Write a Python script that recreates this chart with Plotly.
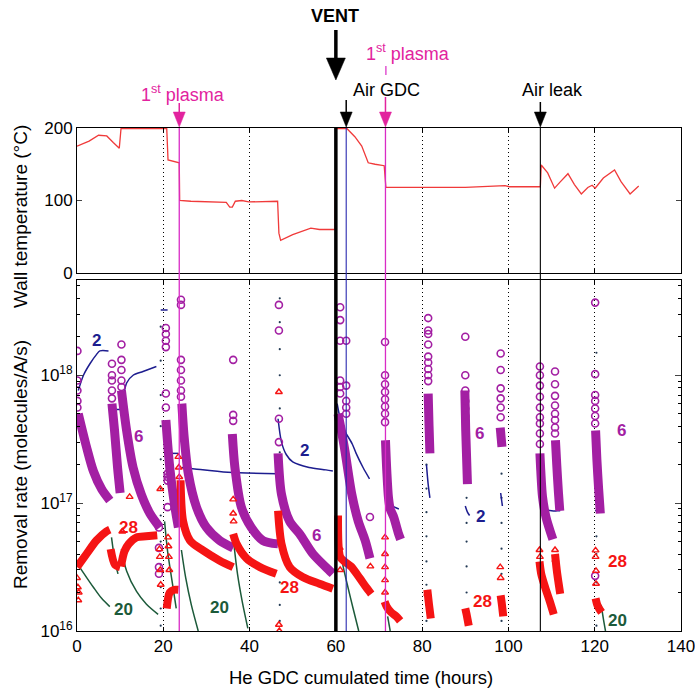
import math
import plotly.graph_objects as go

# ---------------- data ----------------
# Wall temperature (top panel)
temp_hours = [0, 2.8, 5.0, 6.9, 8.4, 9.8, 10.2, 20.8, 21.1, 23.3, 23.7, 23.8, 26.4, 34.6,
              35.4, 36.0, 36.7, 38.2, 39.8, 46.5, 46.8, 47.2, 50.0, 54.2, 56.2, 59.8,
              60.0, 62.6, 64.4, 66.0, 67.5, 69.1, 71.2, 71.6, 90.0, 99.2, 100.2, 107.4,
              107.6, 109.1, 110.7, 111.9, 113.8, 115.3, 116.9, 118.4, 119.4, 120.1,
              122.0, 124.6, 126.1, 128.2, 129.2, 130.2]
temp_celsius = [175, 182, 190, 189, 180, 172, 199, 199, 156, 152, 152, 100, 99, 97.5,
                91, 91, 99, 100, 98, 99, 55, 45, 53, 62, 60, 60,
                199, 199, 188, 175, 152, 150, 148, 118, 118, 120.5, 119, 119,
                149, 138, 117, 125, 137, 122, 109, 118, 121, 117,
                131, 142, 126, 109, 115, 120]

# Events (hours)
plasma1_h = 23.7
vent_h = 60.0
air_gdc_h = 62.4
plasma2_h = 71.5
air_leak_h = 107.4

# mass 6 (purple circles) - dense decays
m6_hours = [
    [0.3, 2.2, 3.8, 5.7, 7.6],
    [8.1, 8.7, 9.4, 10.0],
    [10.3, 11.5, 13.0, 14.9, 16.9, 19.2],
    [20.6, 21.5, 22.7, 23.5],
    [24.3, 24.8, 25.8, 27.7, 30.0, 33.1, 36.2],
    [36.0, 36.6, 38.1, 40.4, 43.1, 46.6],
    [46.6, 47.4, 49.3, 51.6, 54.7, 58.6, 59.3],
    [60.5, 61.4, 62.1, 63.7, 65.2, 66.8, 67.9],
    [71.5, 71.8, 72.2, 72.6, 73.4, 74.5, 75.0],
    [81.4, 81.6, 81.8],
    [89.9, 90.1, 90.5],
    [98.1, 98.5],
    [107.3, 107.5, 107.9, 108.7, 110.3],
    [110.9, 111.2, 111.6, 111.9],
    [120.2, 120.5, 120.9, 121.3],
]
m6_rates = [
    [5.0e17, 2.75e17, 1.78e17, 1.29e17, 1.05e17],
    [6.0e17, 3.7e17, 1.9e17, 1.2e17],
    [7.6e17, 3.7e17, 1.9e17, 1.17e17, 8.3e16, 6.45e16],
    [4.47e17, 1.9e17, 9.3e16, 6.45e16],
    [6.0e17, 3.4e17, 1.7e17, 9.3e16, 6.45e16, 5.1e16, 4.47e16],
    [3.47e17, 1.9e17, 9.3e16, 6.45e16, 5.1e16, 4.8e16],
    [2.45e17, 1.17e17, 7.2e16, 5.75e16, 4.0e16, 2.95e16, 2.8e16],
    [5.0e17, 3.5e17, 2.57e17, 1.17e17, 7.2e16, 5.1e16, 3.7e16],
    [3.1e17, 1.8e17, 1.1e17, 9.0e16, 7.8e16, 5.8e16, 5.2e16],
    [7.2e17, 4.0e17, 2.45e17],
    [7.6e17, 3.7e17, 1.41e17],
    [3.9e17, 2.75e17],
    [2.45e17, 1.78e17, 1.12e17, 7.8e16, 5.2e16],
    [3.1e17, 2.0e17, 1.2e17, 8.7e16],
    [3.7e17, 2.2e17, 1.3e17, 8.3e16],
]
# mass 6 isolated circles (columns of points above each decay)
m6_pts_hours = ([0.1] * 5 + [8.1] * 5 + [10.3] * 5 + [19.0] * 4 + [20.6] * 6 + [21.0] * 4
                + [24.1] * 7 + [36.2] * 3 + [46.8] * 4 + [61.0] * 6 + [62.4] * 5 + [67.9]
                + [71.4] * 8 + [81.4] * 9 + [90.0] * 6 + [98.2] * 6 + [107.3] * 9
                + [110.8] * 8 + [120.1] * 8)
m6_pts_rates = [1.55e18, 9.1e17, 7.6e17, 6.3e17, 5.6e17,
                1.23e18, 1.0e18, 9.1e17, 7.6e17, 6.6e17,
                1.74e18, 1.32e18, 1.1e18, 9.1e17, 8.1e17,
                6.45e16, 4.47e16, 3.16e16, 2.8e16,
                2.34e18, 2.1e18, 1.86e18, 1.66e18, 7.2e17, 5.6e17,
                1.7e17, 1.6e17, 1.5e17, 9.3e16,
                3.9e18, 3.55e18, 1.32e18, 1.1e18, 9.1e17, 7.6e17, 6.8e17,
                1.32e18, 4.9e17, 4.4e17,
                3.55e18, 2.24e18, 4.57e17, 3.0e17,
                3.4e18, 2.7e18, 1.86e18, 9.1e17, 8.1e17, 7.2e17,
                1.86e18, 8.3e17, 6.3e17, 5.6e17, 5.0e17,
                7.8e16,
                1.82e18, 1.0e18, 8.5e17, 7.4e17, 6.5e17, 5.7e17, 5.0e17, 4.3e17,
                2.8e18, 2.24e18, 2.1e18, 1.74e18, 1.4e18, 1.26e18, 1.12e18, 1.0e18, 9.0e17,
                2.0e18, 1.0e18, 7.6e17, 6.3e17, 5.5e17, 4.8e17,
                1.48e18, 1.1e18, 7.9e17, 6.6e17, 5.6e17, 4.7e17,
                1.17e18, 1.0e18, 8.3e17, 6.8e17, 5.6e17, 4.7e17, 4.2e17, 3.5e17, 2.9e17,
                1.07e18, 8.5e17, 6.9e17, 5.8e17, 5.0e17, 4.47e17, 3.9e17, 3.5e17,
                3.7e18, 1.02e18, 7.0e17, 6.3e17, 5.5e17, 4.8e17, 4.2e17, 2.7e16]

# mass 28 (red triangles) - dense decays
m28_hours = [
    [0.0, 2.2, 4.5, 6.8, 7.6],
    [7.8, 8.8, 10.0],
    [10.2, 11.0, 12.0, 13.8, 16.0, 18.6],
    [20.8, 21.5, 22.5, 23.5],
    [24.0, 24.6, 26.2, 29.2, 33.1, 36.2],
    [36.2, 37.0, 39.3, 42.4, 46.2],
    [46.6, 47.4, 49.3, 52.4, 56.2, 59.3],
    [60.5, 61.0, 62.0, 63.5, 65.5, 67.0, 68.2],
    [71.3, 71.8, 72.8, 74.0, 74.9],
    [81.2, 81.6, 82.0],
    [90.0, 90.4, 90.8],
    [98.2, 98.5, 98.8],
    [107.2, 107.6, 108.5, 109.6, 110.5],
    [110.8, 111.2, 111.6, 112.0],
    [120.2, 120.6, 121.0, 121.6],
]
m28_rates = [
    [3.16e16, 4.0e16, 5.1e16, 6.0e16, 6.2e16],
    [4.37e16, 3.3e16, 3.16e16],
    [3.2e16, 4.2e16, 4.8e16, 5.4e16, 5.5e16, 5.6e16],
    [1.5e16, 2.0e16, 2.1e16, 2.1e16],
    [1.51e17, 7.2e16, 5.1e16, 4.27e16, 3.55e16, 3.16e16],
    [5.75e16, 4.8e16, 3.7e16, 3.16e16, 2.8e16],
    [8.7e16, 4.8e16, 3.16e16, 2.63e16, 2.34e16, 2.14e16],
    [8.0e16, 3.8e16, 3.5e16, 3.2e16, 2.6e16, 2.2e16, 1.95e16],
    [1.7e16, 1.55e16, 1.4e16, 1.3e16, 1.2e16],
    [2.1e16, 1.6e16, 1.25e16],
    [1.5e16, 1.3e16, 1.1e16],
    [1.9e16, 1.6e16, 1.3e16],
    [3.5e16, 2.8e16, 2.2e16, 1.7e16, 1.35e16],
    [4.0e16, 3.0e16, 2.4e16, 1.95e16],
    [1.8e16, 1.6e16, 1.5e16, 1.4e16],
]
m28_pts_hours = [0.0, 0.2, 0.3, 0.4, 10.5, 12.2, 19.3, 19.1, 19.2, 19.3, 19.4,
                 21.1, 21.2, 21.3, 21.4, 23.5, 23.6, 23.7, 36.2, 36.2, 36.3,
                 46.8, 46.8, 46.9, 60.9, 61.0, 68.0, 71.4, 71.4, 71.4, 71.4, 71.4,
                 81.2, 98.1, 98.2,
                 107.2, 107.3, 110.8, 110.9, 120.2, 120.2, 120.3, 120.3]
m28_pts_rates = [2.6e16, 2.2e16, 1.74e16, 2.0e16, 6.0e16, 1.12e17, 1.29e17, 4.37e16,
                 3.8e16, 3.0e16, 2.3e16, 5.4e16, 4.6e16, 3.8e16, 3.0e16, 2.3e17, 1.9e17,
                 1.6e17, 1.07e17, 8.3e16, 7.2e16, 7.4e17, 1.12e16, 1.0e16,
                 4.47e16, 3.0e16, 3.2e16, 5.4e16, 4.0e16, 3.16e16, 2.5e16, 2.0e16,
                 1.95e16, 3.16e16, 2.6e16,
                 4.3e16, 3.8e16, 4.3e16, 3.6e16, 4.27e16, 3.8e16, 2.95e16, 2.34e16]

# mass 2 (navy dots)
m2_hours = [
    [0.3, 1.5, 3.0, 4.5, 5.3, 7.3],
    [8.6, 10.4],
    [10.4, 11.5, 13.0, 15.3, 18.4],
    [19.4, 21.0],
    [21.9, 23.5],
    [24.3, 27.3, 35.0, 46.5],
    [46.6, 47.4, 48.5, 50.0, 53.8, 57.7, 59.3],
    [60.3, 61.5, 63.8, 64.7, 66.3, 67.8],
    [71.5, 73.0, 74.6],
    [81.0, 81.4, 81.8],
    [90.0, 90.5, 91.0],
    [98.2, 98.6],
    [107.2, 108.5, 110.0, 111.3, 112.0],
    [120.1, 121.0, 121.8],
]
m2_rates = [
    [7.6e17, 1.0e18, 1.23e18, 1.45e18, 1.55e18, 1.55e18],
    [5.4e17, 5.4e17],
    [5.4e17, 8.7e17, 1.0e18, 1.07e18, 1.17e18],
    [3.24e18, 3.24e18],
    [2.45e17, 2.45e17],
    [1.9e17, 1.85e17, 1.74e17, 1.7e17],
    [4.57e17, 3.0e17, 2.4e17, 2.1e17, 1.9e17, 1.82e17, 1.78e17],
    [6.0e17, 4.0e17, 2.9e17, 2.45e17, 1.9e17, 1.55e17],
    [1.05e17, 9.5e16, 9.0e16],
    [2.0e17, 1.4e17, 1.1e17],
    [9.5e16, 8.5e16, 8.0e16],
    [1.2e17, 9.5e16],
    [1.05e17, 9.0e16, 8.7e16, 8.7e16, 8.7e16],
    [8.7e16, 8.9e16, 8.7e16],
]

# mass 20 (dark green dots)
m20_hours = [
    [0.6, 2.2, 3.8, 5.7, 7.6],
    [8.0, 8.8, 9.5],
    [10.3, 11.5, 13.8, 16.1, 18.8],
    [20.3, 21.0, 22.0, 23.0],
    [24.2, 25.2, 26.5, 28.1],
    [36.3, 37.2, 38.3, 39.6],
    [60.8, 61.6, 62.8, 64.0, 65.3],
    [72.0, 72.6],
    [121.5, 122.0, 122.5],
]
m20_rates = [
    [3.16e16, 2.63e16, 2.2e16, 1.8e16, 1.55e16],
    [5.4e16, 3.5e16, 2.8e16],
    [4.37e16, 2.95e16, 2.04e16, 1.62e16, 1.35e16],
    [7.2e16, 4.2e16, 2.5e16, 1.5e16],
    [4.3e16, 2.6e16, 1.6e16, 1.0e16],
    [5.0e16, 2.8e16, 1.7e16, 1.05e16],
    [5.0e16, 3.3e16, 2.2e16, 1.5e16, 1.0e16],
    [1.3e16, 1.0e16],
    [1.6e16, 1.25e16, 1.0e16],
]

# measurement scan columns (small dots)
scan_hours = [19.4] * 12 + [47.0] * 10 + [81.0] * 8 + [90.3] * 6 + [98.4] * 7 + [120.4] * 6
scan_rates = [1.1e16, 1.5e16, 2.2e16, 3.3e16, 5e16, 8e16, 1.3e17, 2.2e17, 4e17, 7e17, 1.3e18, 2.4e18,
              1.2e16, 1.6e16, 2.4e16, 1.5e17, 2.5e17, 5.5e17, 1.0e18, 1.6e18, 2.6e18, 4.0e18,
              1.2e16, 1.6e16, 2.3e16, 3.5e16, 5.5e16, 8.5e16, 1.3e17, 2.0e17,
              1.3e16, 2.0e16, 3.2e16, 5e16, 7e16, 1.1e17,
              1.2e16, 1.8e16, 2.8e16, 4.4e16, 7e16, 1.1e17, 1.7e17,
              1.1e16, 1.6e16, 2.4e16, 4e16, 5.5e16, 1.5e18]

# species labels
label_text = ["2", "6", "28", "20", "2", "6", "28", "20", "6", "2", "28", "6", "28", "20"]
label_hours = [4.55, 14.2, 11.9, 10.7, 52.8, 55.5, 49.3, 33.1, 93.3, 93.5, 93.9, 126.1, 125.3, 125.3]
label_rates = [1.86e18, 3.3e17, 6.5e16, 1.48e16, 2.57e17, 5.6e16, 2.2e16, 1.52e16,
               3.5e17, 7.8e16, 1.7e16, 3.7e17, 3.5e16, 1.2e16]

x_ticks = [0, 20, 40, 60, 80, 100, 120, 140]
t_ticks = [0, 100, 200]
r_ticks = [1e16, 1e17, 1e18]
r_ticktext = ["10<sup>16</sup>", "10<sup>17</sup>", "10<sup>18</sup>"]

# ---------------- styling ----------------
C_NAVY = "#1d1d8f"
C_PURPLE = "#a31fa3"
C_RED = "#f51414"
C_GREEN = "#1c5a3a"
C_PINK_TXT = "#e2239e"
C_PINK_LINE = "#d92bc6"
species_color = {"2": C_NAVY, "6": C_PURPLE, "28": C_RED, "20": C_GREEN}
FONT = "Liberation Sans, Arial, sans-serif"

# page geometry (body margin removed by post_script)
W, H = 695, 689
ML, MR, MT, MB = 77, 14, 128, 58
PLOT_H = H - MT - MB            # 503
PLOT_W = W - ML - MR            # 604
BOTTOM_PX = H - MB              # 631
LEFT_PX = ML


def py(px):
    """pixel row -> paper y"""
    return (BOTTOM_PX - px) / PLOT_H


def pxw(px):
    """pixel column -> paper x"""
    return (px - LEFT_PX) / PLOT_W


def flat(segs):
    out = []
    for s in segs:
        out += list(s) + [None]
    return out


fig = go.Figure()

fig.add_trace(go.Scatter(x=scan_hours, y=scan_rates, mode="markers", xaxis="x2", yaxis="y2",
                         marker=dict(size=2.2, color="#233a55"), showlegend=False))
fig.add_trace(go.Scatter(x=flat(m20_hours), y=flat(m20_rates), mode="lines", xaxis="x2", yaxis="y2",
                         line=dict(color=C_GREEN, width=1.5, shape="spline", smoothing=0.8),
                         connectgaps=False, showlegend=False))
fig.add_trace(go.Scatter(x=flat(m2_hours), y=flat(m2_rates), mode="lines", xaxis="x2", yaxis="y2",
                         line=dict(color=C_NAVY, width=1.5, shape="spline", smoothing=0.8),
                         connectgaps=False, showlegend=False))
fig.add_trace(go.Scatter(x=flat(m6_hours), y=flat(m6_rates), mode="lines", xaxis="x2", yaxis="y2",
                         line=dict(color=C_PURPLE, width=9, shape="spline", smoothing=0.8),
                         connectgaps=False, showlegend=False))
fig.add_trace(go.Scatter(x=m6_pts_hours, y=m6_pts_rates, mode="markers", xaxis="x2", yaxis="y2",
                         marker=dict(symbol="circle-open", size=7, color=C_PURPLE, line=dict(width=1.6)),
                         showlegend=False))
fig.add_trace(go.Scatter(x=flat(m28_hours), y=flat(m28_rates), mode="lines", xaxis="x2", yaxis="y2",
                         line=dict(color=C_RED, width=8, shape="spline", smoothing=0.8),
                         connectgaps=False, showlegend=False))
fig.add_trace(go.Scatter(x=m28_pts_hours, y=m28_pts_rates, mode="markers", xaxis="x2", yaxis="y2",
                         marker=dict(symbol="triangle-up-open", size=6, color=C_RED, line=dict(width=1.4)),
                         showlegend=False))
fig.add_trace(go.Scatter(x=temp_hours, y=temp_celsius, mode="lines", xaxis="x", yaxis="y",
                         line=dict(color="#f03a3a", width=1.3), showlegend=False))

# ---------------- event lines & arrows ----------------
shapes = [
    dict(type="line", xref="x", yref="paper", x0=vent_h, x1=vent_h, y0=0, y1=1,
         line=dict(color="black", width=3.5)),
    dict(type="line", xref="x", yref="paper", x0=plasma1_h, x1=plasma1_h, y0=0, y1=1,
         line=dict(color=C_PINK_LINE, width=1.3)),
    dict(type="line", xref="x", yref="paper", x0=plasma2_h, x1=plasma2_h, y0=0, y1=1,
         line=dict(color=C_PINK_LINE, width=1.3)),
    dict(type="line", xref="x", yref="paper", x0=air_gdc_h, x1=air_gdc_h, y0=0, y1=1,
         line=dict(color="#2a2ab0", width=1.1)),
    dict(type="line", xref="x", yref="paper", x0=air_leak_h, x1=air_leak_h, y0=0, y1=1,
         line=dict(color="black", width=1.1)),
    dict(type="line", xref="x", yref="paper", x0=plasma2_h + 0.1, x1=plasma2_h + 0.1,
         y0=py(75), y1=py(66), line=dict(color=C_PINK_LINE, width=1.2)),
]

HOURS_PER_PX = 140 / PLOT_W


def arrow(xv, tip_px, tail_px, color, width, head_len, head_half):
    base_px = tip_px - head_len
    shapes.append(dict(type="line", xref="x", yref="paper", x0=xv, x1=xv,
                       y0=py(tail_px), y1=py(base_px + 1), line=dict(color=color, width=width)))
    dx = head_half * HOURS_PER_PX
    shapes.append(dict(type="path", xref="x", yref="paper",
                       path="M %f,%f L %f,%f L %f,%f Z" % (xv - dx, py(base_px), xv + dx, py(base_px),
                                                           xv, py(tip_px)),
                       fillcolor=color, line=dict(color=color, width=0.5)))


arrow(vent_h, 80, 30, "black", 3.5, 22, 9.5)
arrow(plasma1_h, 127, 103, C_PINK_TXT, 1.5, 15, 6)
arrow(plasma2_h, 127, 97, C_PINK_TXT, 1.5, 15, 6)
arrow(air_gdc_h, 127, 100, "black", 1.5, 15, 6)
arrow(air_leak_h, 127, 102, "black", 1.5, 15, 6)

ann = []


def text(xref, x, y, s, size, color, angle=0):
    ann.append(dict(xref=xref, yref="paper", x=x, y=y, text=s, showarrow=False,
                    xanchor="center", yanchor="middle", textangle=angle,
                    font=dict(family=FONT, size=size, color=color)))


text("x", 59.8, py(16), "<b>VENT</b>", 18, "black")
text("x", 24.6, py(93), "1<sup>st</sup> plasma", 18, C_PINK_TXT)
text("x", 76.8, py(52), "1<sup>st</sup> plasma", 18, C_PINK_TXT)
text("x", 71.7, py(90), "Air GDC", 18, "black")
text("x", 110.2, py(90), "Air leak", 18, "black")
text("paper", pxw(20), py(217), "Wall temperature (°C)", 19, "black", -90)
text("paper", pxw(20), py(465), "Removal rate (molecules/A/s)", 19, "black", -90)
text("paper", pxw(361), py(677), "He GDC cumulated time (hours)", 18.5, "black")

# species labels (annotation positions on a log axis are given in log10 units)
for t, h, r in zip(label_text, label_hours, label_rates):
    ann.append(dict(xref="x2", yref="y2", x=h, y=math.log10(r), text="<b>%s</b>" % t,
                    showarrow=False, xanchor="center", yanchor="middle",
                    font=dict(family=FONT, size=17, color=species_color[t])))

axis_common = dict(range=[0, 140], showline=True, linecolor="black", linewidth=1, mirror="ticks",
                   ticks="inside", ticklen=4, tickcolor="black", tickvals=x_ticks, automargin=False,
                   showgrid=True, gridcolor="black", griddash="1px,3px", gridwidth=1, zeroline=False)

fig.update_layout(
    width=W, height=H,
    margin=dict(l=ML, r=MR, t=MT, b=MB, autoexpand=False),
    paper_bgcolor="white", plot_bgcolor="white",
    font=dict(family=FONT, size=17, color="black"),
    xaxis=dict(domain=[0, 1], anchor="y", showticklabels=False, **axis_common),
    xaxis2=dict(domain=[0, 1], anchor="y2", showticklabels=True, ticklabeloverflow="allow",
                tickfont=dict(family=FONT, size=17), **axis_common),
    yaxis=dict(domain=[py(273), 1], anchor="x", range=[0, 200], tickvals=t_ticks, automargin=False,
               showline=True, linecolor="black", mirror="ticks", ticks="inside", ticklen=5,
               showgrid=False, zeroline=False, tickfont=dict(family=FONT, size=17)),
    yaxis2=dict(domain=[0, py(280)], anchor="x2", type="log", range=[16, 18.745], automargin=False,
                tickvals=r_ticks, ticktext=r_ticktext, showline=True, linecolor="black",
                mirror="ticks", ticks="inside", ticklen=6, showgrid=False, zeroline=False,
                tickfont=dict(family=FONT, size=17),
                minor=dict(ticks="inside", ticklen=3, tickcolor="black",
                           tickvals=[m * 10 ** e for e in (16, 17, 18) for m in range(2, 10)],
                           showgrid=False)),
    shapes=shapes,
    annotations=ann,
)

fig.write_html("out.html", config={"displayModeBar": False},
               post_script="document.body.style.margin='0px';document.body.style.overflow='hidden';")
